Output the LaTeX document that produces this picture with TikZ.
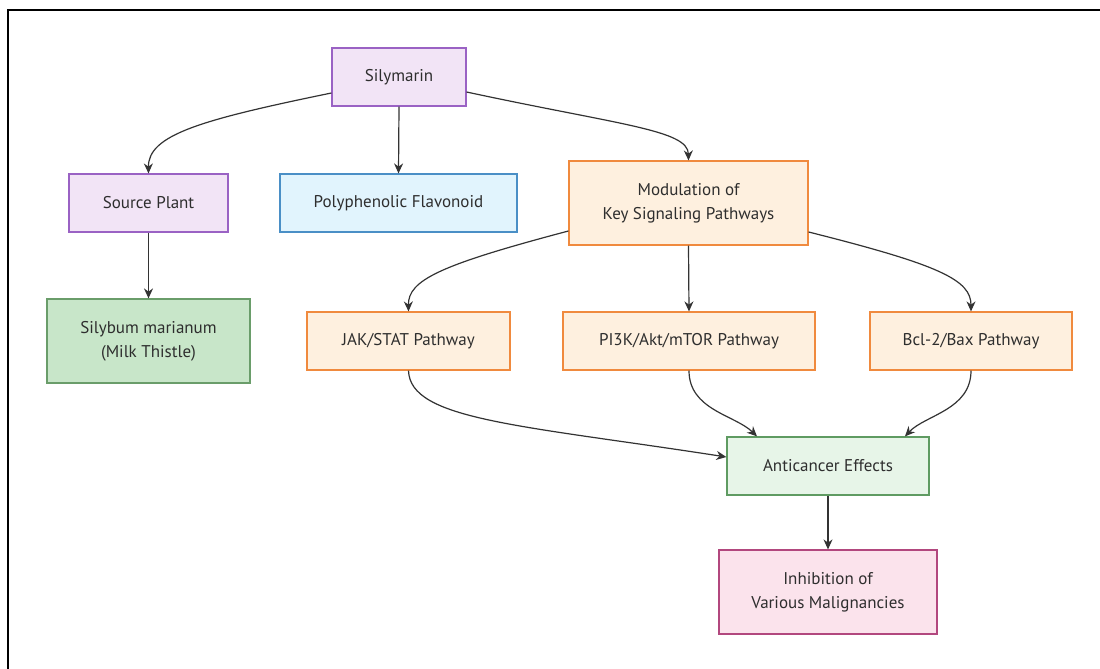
\documentclass[tikz,border=0pt]{standalone}
\usepackage{fontspec}
\setmainfont{PT Sans}
\usetikzlibrary{arrows.meta}
\definecolor{edgecol}{HTML}{333333}
\definecolor{txtcol}{HTML}{2E2E2E}
\definecolor{purfill}{HTML}{F2E4F6}
\definecolor{purline}{HTML}{9A62C4}
\definecolor{bluefill}{HTML}{E1F4FD}
\definecolor{blueline}{HTML}{4A8FC6}
\definecolor{orfill}{HTML}{FEF0DF}
\definecolor{orline}{HTML}{F08A3E}
\definecolor{grnfill}{HTML}{C8E6C9}
\definecolor{grnline}{HTML}{6A9D6A}
\definecolor{lgrnfill}{HTML}{E7F5E8}
\definecolor{lgrnline}{HTML}{5F9B62}
\definecolor{pinkfill}{HTML}{FBE3EC}
\definecolor{pinkline}{HTML}{B2477E}
\tikzset{
  box/.style={draw, line width=1.2pt, align=center, inner sep=0pt,
    text=txtcol, font=\fontsize{17}{24}\selectfont},
  purbox/.style={box, fill=purfill, draw=purline},
  bluebox/.style={box, fill=bluefill, draw=blueline},
  orbox/.style={box, fill=orfill, draw=orline},
  grnbox/.style={box, fill=grnfill, draw=grnline},
  lgrnbox/.style={box, fill=lgrnfill, draw=lgrnline},
  pinkbox/.style={box, fill=pinkfill, draw=pinkline},
  link/.style={draw=edgecol, line width=1.2pt, -{Stealth[length=10pt,width=9pt]}},
}
\begin{document}
\begin{tikzpicture}[x=1pt,y=-1pt]
\useasboundingbox (0,0) rectangle (1100,669);
\fill[white] (0,0) rectangle (1100,669);
% outer frame (top and left edges)
\draw[line width=2pt, black] (8,669) -- (8,10) -- (1100,10);

% nodes
\node[purbox, minimum width=134pt, minimum height=58pt] (sil) at (399,77) {Silymarin};
\node[purbox, minimum width=159pt, minimum height=58pt] (src) at (148.5,203) {Source Plant};
\node[bluebox, minimum width=237pt, minimum height=58pt] (poly) at (398.5,203) {Polyphenolic Flavonoid};
\node[orbox, minimum width=239pt, minimum height=84pt] (mod) at (688.5,203) {Modulation of\\Key Signaling Pathways};
\node[grnbox, minimum width=203pt, minimum height=84pt] (mil) at (148.5,341) {Silybum marianum\\(Milk Thistle)};
\node[orbox, minimum width=203pt, minimum height=58pt] (jak) at (408.5,341) {JAK/STAT Pathway};
\node[orbox, minimum width=252pt, minimum height=58pt] (pi3k) at (689,341) {PI3K/Akt/mTOR Pathway};
\node[orbox, minimum width=202pt, minimum height=58pt] (bcl) at (971,341) {Bcl-2/Bax Pathway};
\node[lgrnbox, minimum width=202pt, minimum height=58pt] (anti) at (828,466) {Anticancer Effects};
\node[pinkbox, minimum width=218pt, minimum height=84pt] (inh) at (828,592) {Inhibition of\\Various Malignancies};

% connectors
\draw[link] ([yshift=-16pt]sil.west) .. controls (200,120) and (148,135) .. (src.north);
\draw[link] (sil.south) -- (poly.north);
\draw[link] ([yshift=-15pt]sil.east) .. controls (620,125) and (688,130) .. (mod.north);
\draw[link] (src.south) -- (mil.north);
\draw[link] ([yshift=-28pt]mod.west) .. controls (440,265) and (408,280) .. (jak.north);
\draw[link] (mod.south) -- (pi3k.north);
\draw[link] ([yshift=-29pt]mod.east) .. controls (940,265) and (971,280) .. (bcl.north);
\draw[link] (jak.south) .. controls (410,420) and (520,425) .. ([yshift=9pt]anti.west);
\draw[link] (pi3k.south) .. controls (689,410) and (735,415) .. ([xshift=-71pt]anti.north);
\draw[link] (bcl.south) .. controls (971,410) and (925,415) .. ([xshift=77pt]anti.north);
\draw[link] (anti.south) -- (inh.north);
\end{tikzpicture}
\end{document}
